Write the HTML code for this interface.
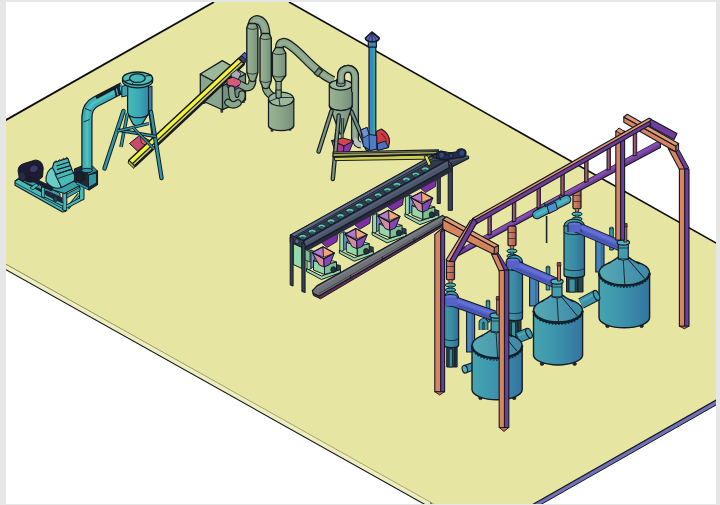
<!DOCTYPE html>
<html><head><meta charset="utf-8"><title>Plant layout</title>
<style>
html,body{margin:0;padding:0;background:#fff;font-family:"Liberation Sans",sans-serif;}
body{width:720px;height:505px;overflow:hidden;position:relative;}
svg{position:absolute;left:0;top:0;display:block;}
</style></head><body>
<svg width="720" height="505" viewBox="0 0 720 505">
<defs>
<linearGradient id="gTeal" x1="0" x2="1" y1="0" y2="0"><stop offset="0" stop-color="#45bcb8"/><stop offset="0.55" stop-color="#3aa9b4"/><stop offset="1" stop-color="#2f86ae"/></linearGradient>
<linearGradient id="gSage" x1="0" x2="1" y1="0" y2="0"><stop offset="0" stop-color="#9ab394"/><stop offset="0.5" stop-color="#8aa588"/><stop offset="1" stop-color="#74907a"/></linearGradient>
<linearGradient id="gTank" x1="0" x2="1" y1="0" y2="0"><stop offset="0" stop-color="#46a4b0"/><stop offset="0.45" stop-color="#3c94ac"/><stop offset="1" stop-color="#3474a0"/></linearGradient>
<linearGradient id="gLid" x1="0" x2="1" y1="0" y2="0"><stop offset="0" stop-color="#55aab4"/><stop offset="1" stop-color="#3f88a8"/></linearGradient>
<linearGradient id="gCond" x1="0" x2="1" y1="0" y2="0"><stop offset="0" stop-color="#3f9aa6"/><stop offset="0.5" stop-color="#3a8ca4"/><stop offset="1" stop-color="#2f6e94"/></linearGradient>
<linearGradient id="gChim" x1="0" x2="1" y1="0" y2="0"><stop offset="0" stop-color="#3f84c4"/><stop offset="0.55" stop-color="#3c8cbc"/><stop offset="0.8" stop-color="#3fa6a8"/><stop offset="1" stop-color="#5cba90"/></linearGradient>
<linearGradient id="gHang" x1="0" x2="1" y1="0" y2="0"><stop offset="0" stop-color="#d98a6a"/><stop offset="1" stop-color="#a8584e"/></linearGradient>
<filter id="soft" x="-2%" y="-2%" width="104%" height="104%"><feGaussianBlur stdDeviation="0.55"/></filter>
</defs>

<rect x="0" y="0" width="720" height="505" fill="#e6e6e6"/>
<rect x="6" y="2" width="710" height="502" fill="#ffffff"/>
<clipPath id="inner"><rect x="6" y="2" width="710" height="502"/></clipPath>
<g clip-path="url(#inner)" filter="url(#soft)">
<polygon points="2.0,261.5 2.0,267.4 431.0,507.9 431.0,501.0" fill="#eeeebc" stroke="#141a24" stroke-width="1.12" stroke-linejoin="round" />
<polygon points="524.0,509.0 533.0,509.0 724.0,400.5 724.0,394.0" fill="#7272b8" stroke="#141a24" stroke-width="1.0" stroke-linejoin="round" />
<polygon points="214.0,2.0 2.0,122.2 2.0,262.0 440.0,507.5 530.0,506.0 724.0,395.5 724.0,247.5 289.0,2.0" fill="#e6e6a2" stroke="none" stroke-width="1.0" stroke-linejoin="round" />
<polyline points="214.0,2.0 2.0,122.2" fill="none" stroke="#0e0e10" stroke-width="1.9" stroke-linecap="butt" stroke-linejoin="round"/>
<polyline points="289.0,2.0 724.0,247.5" fill="none" stroke="#0e0e10" stroke-width="1.7" stroke-linecap="butt" stroke-linejoin="round"/>
<polyline points="2.0,262.0 440.0,507.5" fill="none" stroke="#8a8a66" stroke-width="0.7" stroke-linecap="butt" stroke-linejoin="round"/>
<polyline points="530.0,506.0 724.0,395.5" fill="none" stroke="#141a24" stroke-width="1.25" stroke-linecap="butt" stroke-linejoin="round"/>
<path d="M221.8 109.0 L221.8 112.5" fill="none" stroke="#141a24" stroke-width="2.6" stroke-linecap="butt" stroke-linejoin="round" />
<path d="M221.8 109.0 L221.8 112.5" fill="none" stroke="#3a4a48" stroke-width="1.6" stroke-linecap="butt" stroke-linejoin="round" />
<path d="M204.0 101.0 L204.0 104.0" fill="none" stroke="#141a24" stroke-width="2.4" stroke-linecap="butt" stroke-linejoin="round" />
<path d="M204.0 101.0 L204.0 104.0" fill="none" stroke="#3a4a48" stroke-width="1.4" stroke-linecap="butt" stroke-linejoin="round" />
<path d="M243.5 100.0 L243.5 103.0" fill="none" stroke="#141a24" stroke-width="2.4" stroke-linecap="butt" stroke-linejoin="round" />
<path d="M243.5 100.0 L243.5 103.0" fill="none" stroke="#3a4a48" stroke-width="1.4" stroke-linecap="butt" stroke-linejoin="round" />
<polygon points="200.3,74.0 222.5,86.0 222.5,109.7 200.3,100.0" fill="#8aa68a" stroke="#141a24" stroke-width="1.25" stroke-linejoin="round" />
<polygon points="222.5,86.0 245.5,74.0 245.5,100.0 222.5,109.7" fill="#76927c" stroke="#141a24" stroke-width="1.25" stroke-linejoin="round" />
<polygon points="200.3,74.0 222.3,60.6 245.5,74.0 222.5,86.0" fill="#9cb79a" stroke="#141a24" stroke-width="1.25" stroke-linejoin="round" />
<polygon points="19.0,178.0 44.0,190.0 62.0,200.0 62.0,207.0 17.0,183.0" fill="#232838" stroke="none" stroke-width="1.0" stroke-linejoin="round" />
<polygon points="20.5,176.5 24.0,174.5 60.0,193.5 60.0,198.0 20.5,180.5" fill="#37a2a8" stroke="#141a24" stroke-width="1.0" stroke-linejoin="round" />
<polygon points="15.0,181.0 18.5,179.0 65.5,205.0 65.5,211.5 62.5,212.0 15.0,185.2" fill="#46bab6" stroke="#141a24" stroke-width="1.12" stroke-linejoin="round" />
<polyline points="15.0,182.8 62.6,208.6 65.5,207.0" fill="none" stroke="#141a24" stroke-width="0.75" stroke-linecap="butt" stroke-linejoin="round"/>
<polygon points="15.0,181.0 20.5,176.5 24.0,174.5 18.5,179.0" fill="#66cec6" stroke="#141a24" stroke-width="0.88" stroke-linejoin="round" />
<polygon points="30.0,188.0 36.0,183.5 39.0,185.0 33.0,189.8" fill="#46bab6" stroke="#141a24" stroke-width="0.75" stroke-linejoin="round" />
<polygon points="41.5,187.0 44.8,187.0 44.8,198.0 41.5,196.5" fill="#46bab6" stroke="#141a24" stroke-width="1.0" stroke-linejoin="round" />
<polygon points="79.5,184.0 84.0,182.5 84.0,199.5 79.5,201.0" fill="#46bab6" stroke="#141a24" stroke-width="1.0" stroke-linejoin="round" />
<polygon points="62.8,192.5 66.8,192.5 66.8,210.8 62.8,210.0" fill="#46bab6" stroke="#141a24" stroke-width="1.0" stroke-linejoin="round" />
<polygon points="66.8,194.0 80.0,187.0 80.0,190.5 66.8,198.0" fill="#37a2a8" stroke="#141a24" stroke-width="0.88" stroke-linejoin="round" />
<path d="M67.5 208.5 L79.0 194.0" fill="none" stroke="#141a24" stroke-width="3.45" stroke-linecap="butt" stroke-linejoin="round" />
<path d="M67.5 208.5 L79.0 194.0" fill="none" stroke="#46bab6" stroke-width="1.7" stroke-linecap="butt" stroke-linejoin="round" />
<path d="M66.8 206.5 L80.0 199.5" fill="none" stroke="#141a24" stroke-width="3.95" stroke-linecap="butt" stroke-linejoin="round" />
<path d="M66.8 206.5 L80.0 199.5" fill="none" stroke="#46bab6" stroke-width="2.2" stroke-linecap="butt" stroke-linejoin="round" />
<path d="M45.0 195.5 L62.8 204.5" fill="none" stroke="#141a24" stroke-width="3.95" stroke-linecap="butt" stroke-linejoin="round" />
<path d="M45.0 195.5 L62.8 204.5" fill="none" stroke="#46bab6" stroke-width="2.2" stroke-linecap="butt" stroke-linejoin="round" />
<polygon points="46.0,190.0 62.5,197.5 62.5,203.5 46.0,195.5" fill="#20283a" stroke="none" stroke-width="1.0" stroke-linejoin="round" />
<ellipse cx="55.5" cy="199.0" rx="2.2" ry="2.6" fill="#2e3a50" stroke="#141a24" stroke-width="0.75"/>
<polygon points="41.5,186.5 58.5,178.0 84.0,183.5 64.5,193.5" fill="#37a2a8" stroke="#141a24" stroke-width="1.12" stroke-linejoin="round" />
<path d="M18.5 174 Q16.5 165.5 24 163.5 L35.5 160 Q42.5 160.5 43.2 168 L42.5 177 Q35 184 26.5 181.5 Z" fill="#1c1b30" stroke="#141a24" stroke-width="1.0" stroke-linecap="butt" stroke-linejoin="round" />
<ellipse cx="22.4" cy="176.2" rx="3.4" ry="4.6" fill="#2b2946" stroke="#141a24" stroke-width="1.0" transform="rotate(-20 22.4 176.2)"/>
<ellipse cx="33.8" cy="168.8" rx="4.6" ry="3.6" fill="#3a3868" stroke="#15142a" stroke-width="0.7" transform="rotate(-25 33.8 168.8)"/>
<polygon points="27.0,178.5 31.0,176.5 53.5,187.5 51.5,191.0" fill="#1c1b30" stroke="#141a24" stroke-width="0.75" stroke-linejoin="round" />
<path d="M46 181.5 Q45.5 171 52.5 167.5 L56 170.5 L61.5 187.5 Q53 190.5 46 181.5 Z" fill="#66cec6" stroke="#141a24" stroke-width="1.12" stroke-linecap="butt" stroke-linejoin="round" />
<polygon points="55.0,174.0 71.5,169.0 77.0,179.5 61.5,187.5" fill="#46bab6" stroke="#141a24" stroke-width="1.12" stroke-linejoin="round" />
<polygon points="52.5,167.5 54.0,162.5 67.8,158.2 71.8,169.0 56.0,174.5" fill="#46bab6" stroke="#141a24" stroke-width="1.12" stroke-linejoin="round" />
<path d="M54 162.5 L56 160.8 L57.4 161.8 L59.6 159.6 L61 160.6 L63.4 158.2 L64.8 159.2 L66.6 157.4 L67.8 158.2" fill="none" stroke="#141a24" stroke-width="1.0" stroke-linecap="butt" stroke-linejoin="round" />
<polyline points="56.5,166.0 69.0,162.0" fill="none" stroke="#141a24" stroke-width="1.25" stroke-linecap="butt" stroke-linejoin="round"/>
<polyline points="57.0,169.6 70.4,165.6" fill="none" stroke="#141a24" stroke-width="1.25" stroke-linecap="butt" stroke-linejoin="round"/>
<polyline points="56.0,174.2 71.6,169.2" fill="none" stroke="#141a24" stroke-width="1.12" stroke-linecap="butt" stroke-linejoin="round"/>
<polyline points="58.0,178.5 73.5,173.0" fill="none" stroke="#141a24" stroke-width="0.88" stroke-linecap="butt" stroke-linejoin="round"/>
<polygon points="74.5,169.0 82.0,166.0 97.5,171.0 97.5,184.5 89.0,190.0 74.5,181.5" fill="#1f2c3a" stroke="#141a24" stroke-width="1.12" stroke-linejoin="round" />
<polygon points="88.5,175.0 96.5,173.0 96.5,183.0 88.5,187.5" fill="#2f96a2" stroke="#141a24" stroke-width="0.88" stroke-linejoin="round" />
<polygon points="76.0,172.5 81.0,171.0 85.0,173.0 85.0,180.0 80.0,182.0 76.0,179.5" fill="#16202c" stroke="#141a24" stroke-width="0.62" stroke-linejoin="round" />
<polygon points="82.0,166.5 92.0,165.5 97.5,171.0 88.5,175.0" fill="#2a8a98" stroke="#141a24" stroke-width="0.88" stroke-linejoin="round" />
<path d="M77.0 183.0 L88.0 188.5" fill="none" stroke="#141a24" stroke-width="3.05" stroke-linecap="butt" stroke-linejoin="round" />
<path d="M77.0 183.0 L88.0 188.5" fill="none" stroke="#2f96a2" stroke-width="1.8" stroke-linecap="butt" stroke-linejoin="round" />
<path d="M86.9 171 L86.9 117 Q87.2 106 96 101.5 L123 87.5" fill="none" stroke="#141a24" stroke-width="11.3" stroke-linecap="butt" stroke-linejoin="round" />
<path d="M86.9 171 L86.9 117 Q87.2 106 96 101.5 L123 87.5" fill="none" stroke="#3aaeb4" stroke-width="8.8" stroke-linecap="butt" stroke-linejoin="round" />
<path d="M86.9 171 L86.9 117 Q87.2 106 96 101.5 L123 87.5" fill="none" stroke="#62cfc8" stroke-width="3.08" stroke-linecap="butt" stroke-linejoin="round" opacity="0.55"/>
<ellipse cx="86.9" cy="170.5" rx="5.4" ry="2.2" fill="#2e97a0" stroke="#141a24" stroke-width="1.0"/>
<polyline points="96.0,97.6 120.0,85.0" fill="none" stroke="#141a24" stroke-width="3.0" stroke-linecap="butt" stroke-linejoin="round"/>
<path d="M117.5 84.5 L120.0 95.0" fill="none" stroke="#141a24" stroke-width="2.75" stroke-linecap="butt" stroke-linejoin="round" />
<path d="M117.5 84.5 L120.0 95.0" fill="none" stroke="#1c1b30" stroke-width="2.0" stroke-linecap="butt" stroke-linejoin="round" />
<path d="M114.5 86.5 L116.5 96.5" fill="none" stroke="#141a24" stroke-width="1.7" stroke-linecap="butt" stroke-linejoin="round" />
<path d="M114.5 86.5 L116.5 96.5" fill="none" stroke="#1c1b30" stroke-width="1.2" stroke-linecap="butt" stroke-linejoin="round" />
<polyline points="83.5,122.0 89.5,119.5" fill="none" stroke="#141a24" stroke-width="0.88" stroke-linecap="butt" stroke-linejoin="round"/>
<polyline points="85.0,108.5 91.5,111.0" fill="none" stroke="#141a24" stroke-width="0.88" stroke-linecap="butt" stroke-linejoin="round"/>
<path d="M150.5 112.0 L154.5 143.0" fill="none" stroke="#141a24" stroke-width="4.2" stroke-linecap="butt" stroke-linejoin="round" />
<path d="M150.5 112.0 L154.5 143.0" fill="none" stroke="#2f93a6" stroke-width="2.2" stroke-linecap="butt" stroke-linejoin="round" />
<path d="M127.6 86.0 L127.6 113.5 A10.5 4.2 0 0 0 148.6 113.5 L148.6 86.0 A10.5 4.2 0 0 0 127.6 86.0 Z" fill="url(#gTeal)" stroke="#141a24" stroke-width="1.25" stroke-linecap="butt" stroke-linejoin="round" />
<polygon points="148.6,87.5 152.0,86.0 152.0,110.5 148.6,113.0" fill="#2d86ac" stroke="#141a24" stroke-width="1.0" stroke-linejoin="round" />
<polygon points="121.8,86.5 127.6,84.5 127.6,95.5 121.8,97.0" fill="#3aa2b4" stroke="#141a24" stroke-width="1.0" stroke-linejoin="round" />
<path d="M122.6 78.5 L122.6 81.3 A15 6.5 0 0 0 152.6 81.3 L152.6 78.5 Z" fill="#3fb0b2" stroke="#141a24" stroke-width="1.25" stroke-linecap="butt" stroke-linejoin="round" />
<ellipse cx="137.6" cy="78.5" rx="15.0" ry="6.5" fill="#4cc0ba" stroke="#141a24" stroke-width="1.38"/>
<ellipse cx="137.4" cy="78.2" rx="7.8" ry="4.3" fill="#46b6b6" stroke="#141a24" stroke-width="1.25"/>
<polyline points="124.5,81.5 130.2,79.6" fill="none" stroke="#141a24" stroke-width="1.12" stroke-linecap="butt" stroke-linejoin="round"/>
<polyline points="145.5,76.0 151.5,75.2" fill="none" stroke="#141a24" stroke-width="1.0" stroke-linecap="butt" stroke-linejoin="round"/>
<polyline points="132.0,84.2 133.5,82.3" fill="none" stroke="#141a24" stroke-width="1.0" stroke-linecap="butt" stroke-linejoin="round"/>
<path d="M127.6 113.5 A10.5 4.2 0 0 0 148.6 113.5 L142.2 124 Q137.6 128.2 133 124 Z" fill="url(#gTeal)" stroke="#141a24" stroke-width="1.25" stroke-linecap="butt" stroke-linejoin="round" />
<polygon points="129.5,143.5 140.0,135.0 151.0,141.5 147.0,151.5 139.0,152.5" fill="#c8486c" stroke="#141a24" stroke-width="1.0" stroke-linejoin="round" />
<polygon points="140.0,135.0 151.0,141.5 149.0,147.0 141.5,143.0" fill="#d8645c" stroke="#141a24" stroke-width="0.75" stroke-linejoin="round" />
<polygon points="141.0,153.5 148.0,150.0 150.0,152.5 143.5,156.5" fill="#5a30c0" stroke="#141a24" stroke-width="0.75" stroke-linejoin="round" />
<polygon points="128.9,160.4 238.5,58.5 244.2,63.5 134.5,166.0" fill="#cfcf5a" stroke="#141a24" stroke-width="1.5" stroke-linejoin="round" />
<polygon points="128.9,160.4 238.5,58.5 241.9,61.4 132.3,163.7" fill="#f4f436" stroke="#141a24" stroke-width="1.25" stroke-linejoin="round" />
<polygon points="128.9,160.4 134.5,166.0 133.9,168.4 128.1,162.9" fill="#c9c928" stroke="#141a24" stroke-width="1.0" stroke-linejoin="round" />
<polyline points="134.6,166.3 244.3,63.8" fill="none" stroke="#141a24" stroke-width="2.38" stroke-linecap="butt" stroke-linejoin="round"/>
<polygon points="238.5,58.5 244.6,52.6 249.6,56.6 244.2,63.5" fill="#3a3a64" stroke="#141a24" stroke-width="1.12" stroke-linejoin="round" />
<polygon points="241.5,55.6 244.6,52.6 249.6,56.6 246.8,60.2" fill="#5a5ac0" stroke="#141a24" stroke-width="0.88" stroke-linejoin="round" />
<path d="M123.5 111.0 L104.5 168.5" fill="none" stroke="#141a24" stroke-width="4.4" stroke-linecap="round" stroke-linejoin="round" />
<path d="M123.5 111.0 L104.5 168.5" fill="none" stroke="#2f98a6" stroke-width="2.4" stroke-linecap="round" stroke-linejoin="round" />
<path d="M151.0 112.0 L161.5 178.0" fill="none" stroke="#141a24" stroke-width="4.4" stroke-linecap="round" stroke-linejoin="round" />
<path d="M151.0 112.0 L161.5 178.0" fill="none" stroke="#2f98a6" stroke-width="2.4" stroke-linecap="round" stroke-linejoin="round" />
<path d="M127.5 113.0 L121.0 147.0" fill="none" stroke="#141a24" stroke-width="3.55" stroke-linecap="butt" stroke-linejoin="round" />
<path d="M127.5 113.0 L121.0 147.0" fill="none" stroke="#2f98a6" stroke-width="1.8" stroke-linecap="butt" stroke-linejoin="round" />
<path d="M117.5 130.0 L156.0 136.5" fill="none" stroke="#141a24" stroke-width="3.45" stroke-linecap="butt" stroke-linejoin="round" />
<path d="M117.5 130.0 L156.0 136.5" fill="none" stroke="#2f98a6" stroke-width="1.7" stroke-linecap="butt" stroke-linejoin="round" />
<path d="M118.0 131.0 L149.0 123.5" fill="none" stroke="#141a24" stroke-width="3.0" stroke-linecap="butt" stroke-linejoin="round" />
<path d="M118.0 131.0 L149.0 123.5" fill="none" stroke="#2f98a6" stroke-width="1.5" stroke-linecap="butt" stroke-linejoin="round" />
<path d="M133.5 128.0 L154.0 149.0" fill="none" stroke="#141a24" stroke-width="3.0" stroke-linecap="butt" stroke-linejoin="round" />
<path d="M133.5 128.0 L154.0 149.0" fill="none" stroke="#2f93a6" stroke-width="1.5" stroke-linecap="butt" stroke-linejoin="round" />
<polygon points="231.0,74.0 236.5,70.0 241.0,73.5 238.0,80.0 232.0,80.0" fill="#a9a9b4" stroke="#141a24" stroke-width="0.88" stroke-linejoin="round" />
<polygon points="227.0,79.5 233.0,77.0 240.5,80.5 241.0,84.0 234.0,88.0 227.0,84.5" fill="#d45a78" stroke="#141a24" stroke-width="1.0" stroke-linejoin="round" />
<polygon points="227.0,84.5 234.0,88.0 241.0,84.0 241.0,86.5 234.0,90.5 227.0,87.0" fill="#7a3aa0" stroke="#141a24" stroke-width="0.88" stroke-linejoin="round" />
<path d="M231.5 89 L232 95 Q233 101.5 238.5 100.5 Q242.5 99 242 94" fill="none" stroke="#141a24" stroke-width="7.45" stroke-linecap="round" stroke-linejoin="round" />
<path d="M231.5 89 L232 95 Q233 101.5 238.5 100.5 Q242.5 99 242 94" fill="none" stroke="#8aa68a" stroke-width="5.2" stroke-linecap="round" stroke-linejoin="round" />
<path d="M228 102.5 Q233 107 238 103" fill="none" stroke="#141a24" stroke-width="7.45" stroke-linecap="round" stroke-linejoin="round" />
<path d="M228 102.5 Q233 107 238 103" fill="none" stroke="#8aa68a" stroke-width="5.2" stroke-linecap="round" stroke-linejoin="round" />
<path d="M252.5 80 Q252.5 88 246 87.5 L240 84.5" fill="none" stroke="#141a24" stroke-width="7.85" stroke-linecap="butt" stroke-linejoin="round" />
<path d="M252.5 80 Q252.5 88 246 87.5 L240 84.5" fill="none" stroke="#8aa68a" stroke-width="5.6" stroke-linecap="butt" stroke-linejoin="round" />
<path d="M252.2 27 C252 16 265.5 17 265.6 36" fill="none" stroke="#141a24" stroke-width="9.7" stroke-linecap="butt" stroke-linejoin="round" />
<path d="M252.2 27 C252 16 265.5 17 265.6 36" fill="none" stroke="#8aa68a" stroke-width="7.2" stroke-linecap="butt" stroke-linejoin="round" />
<path d="M252.2 27 C252 16 265.5 17 265.6 36" fill="none" stroke="#9cb79a" stroke-width="2.52" stroke-linecap="butt" stroke-linejoin="round" opacity="0.55"/>
<path d="M248.6 23.5 L246.8 27.8 L246.8 72.5 L249.8 80.5 Q252.6 82.7 255.4 80.5 L257.9 72.5 L257.9 27.8 L255.8 23.5 Z" fill="url(#gSage)" stroke="#141a24" stroke-width="1.38" stroke-linecap="butt" stroke-linejoin="round" />
<path d="M246.8 27.8 Q252.3 31.0 257.9 27.8" fill="none" stroke="#141a24" stroke-width="0.8" stroke-linecap="butt" stroke-linejoin="round" />
<path d="M246.8 72.5 Q252.3 75.7 257.9 72.5" fill="none" stroke="#141a24" stroke-width="0.8" stroke-linecap="butt" stroke-linejoin="round" />
<path d="M265.6 86.5 Q266 92 272.5 96.5" fill="none" stroke="#141a24" stroke-width="8.05" stroke-linecap="butt" stroke-linejoin="round" />
<path d="M265.6 86.5 Q266 92 272.5 96.5" fill="none" stroke="#8aa68a" stroke-width="5.8" stroke-linecap="butt" stroke-linejoin="round" />
<path d="M262.0 33.5 L260.0 38.0 L260.0 80.8 L262.8 87.5 Q265.8 89.7 268.8 87.5 L271.3 80.8 L271.3 38.0 L269.2 33.5 Z" fill="url(#gSage)" stroke="#141a24" stroke-width="1.38" stroke-linecap="butt" stroke-linejoin="round" />
<path d="M260.0 38.0 Q265.6 41.2 271.3 38.0" fill="none" stroke="#141a24" stroke-width="0.8" stroke-linecap="butt" stroke-linejoin="round" />
<path d="M260.0 80.8 Q265.6 84.0 271.3 80.8" fill="none" stroke="#141a24" stroke-width="0.8" stroke-linecap="butt" stroke-linejoin="round" />
<path d="M279.2 49 C279.4 40 285 41.5 291 46 C305 56 312 70 333 80.5" fill="none" stroke="#141a24" stroke-width="9.1" stroke-linecap="butt" stroke-linejoin="round" />
<path d="M279.2 49 C279.4 40 285 41.5 291 46 C305 56 312 70 333 80.5" fill="none" stroke="#8aa68a" stroke-width="6.6" stroke-linecap="butt" stroke-linejoin="round" />
<path d="M279.2 49 C279.4 40 285 41.5 291 46 C305 56 312 70 333 80.5" fill="none" stroke="#9cb79a" stroke-width="2.3099999999999996" stroke-linecap="butt" stroke-linejoin="round" opacity="0.55"/>
<path d="M316.2 70.3 L320.6 73.9" fill="none" stroke="#141a24" stroke-width="8.6" stroke-linecap="butt" stroke-linejoin="round" />
<path d="M316.2 70.3 L320.6 73.9" fill="none" stroke="#2c3a3a" stroke-width="7.6" stroke-linecap="butt" stroke-linejoin="round" />
<path d="M317.1 71.0 L319.7 73.2" fill="none" stroke="#141a24" stroke-width="6.0" stroke-linecap="butt" stroke-linejoin="round" />
<path d="M317.1 71.0 L319.7 73.2" fill="none" stroke="#76927c" stroke-width="6.0" stroke-linecap="butt" stroke-linejoin="round" />
<path d="M275.8 47.5 L272.4 53.0 L272.4 75.5 L276.0 81.5 Q278.6 83.7 281.2 81.5 L285.8 75.5 L285.8 53.0 L282.6 47.5 Z" fill="url(#gSage)" stroke="#141a24" stroke-width="1.38" stroke-linecap="butt" stroke-linejoin="round" />
<path d="M272.4 53.0 Q279.1 56.2 285.8 53.0" fill="none" stroke="#141a24" stroke-width="0.8" stroke-linecap="butt" stroke-linejoin="round" />
<path d="M272.4 75.5 Q279.1 78.7 285.8 75.5" fill="none" stroke="#141a24" stroke-width="0.8" stroke-linecap="butt" stroke-linejoin="round" />
<polygon points="276.0,81.5 281.2,81.5 281.2,97.0 276.0,97.0" fill="#8aa68a" stroke="#141a24" stroke-width="1.12" stroke-linejoin="round" />
<path d="M272.0 128.0 L272.0 131.5" fill="none" stroke="#141a24" stroke-width="2.6" stroke-linecap="butt" stroke-linejoin="round" />
<path d="M272.0 128.0 L272.0 131.5" fill="none" stroke="#34403c" stroke-width="1.6" stroke-linecap="butt" stroke-linejoin="round" />
<path d="M290.0 127.0 L290.0 130.5" fill="none" stroke="#141a24" stroke-width="2.6" stroke-linecap="butt" stroke-linejoin="round" />
<path d="M290.0 127.0 L290.0 130.5" fill="none" stroke="#34403c" stroke-width="1.6" stroke-linecap="butt" stroke-linejoin="round" />
<path d="M268.5 99.0 L268.5 126.0 A12.7 5.2 0 0 0 293.8 126.0 L293.8 99.0 A12.7 5.2 0 0 0 268.5 99.0 Z" fill="url(#gSage)" stroke="#141a24" stroke-width="1.25" stroke-linecap="butt" stroke-linejoin="round" />
<ellipse cx="281.1" cy="99.0" rx="12.6" ry="7.0" fill="#9cb79a" stroke="#141a24" stroke-width="1.25"/>
<polyline points="278.8,97.5 269.0,101.5" fill="none" stroke="#141a24" stroke-width="0.88" stroke-linecap="butt" stroke-linejoin="round"/>
<polyline points="278.8,97.5 280.0,105.8" fill="none" stroke="#141a24" stroke-width="0.88" stroke-linecap="butt" stroke-linejoin="round"/>
<polyline points="278.8,97.5 293.0,97.5" fill="none" stroke="#141a24" stroke-width="0.88" stroke-linecap="butt" stroke-linejoin="round"/>
<polygon points="276.0,90.0 281.2,90.0 281.2,97.2 278.6,98.5 276.0,97.2" fill="#8aa68a" stroke="#141a24" stroke-width="1.12" stroke-linejoin="round" />
<path d="M376 131.5 L381.5 129 Q390 134 389.5 142 L388.5 147.5 L377 150 Z" fill="#cf3b45" stroke="#141a24" stroke-width="1.12" stroke-linecap="butt" stroke-linejoin="round" />
<polygon points="377.0,144.0 385.0,141.0 388.5,147.5 378.0,150.5" fill="#4a72c4" stroke="#141a24" stroke-width="1.0" stroke-linejoin="round" />
<path d="M381 133.5 Q386 137 386.5 142" fill="none" stroke="#7a2030" stroke-width="1.1" stroke-linecap="butt" stroke-linejoin="round" />
<path d="M341 84 L341 76 C341 66.5 355 66 355 77 L355 140" fill="none" stroke="#141a24" stroke-width="8.1" stroke-linecap="butt" stroke-linejoin="round" />
<path d="M341 84 L341 76 C341 66.5 355 66 355 77 L355 140" fill="none" stroke="#8aa68a" stroke-width="5.6" stroke-linecap="butt" stroke-linejoin="round" />
<path d="M341 84 L341 76 C341 66.5 355 66 355 77 L355 140" fill="none" stroke="#9cb79a" stroke-width="1.9599999999999997" stroke-linecap="butt" stroke-linejoin="round" opacity="0.55"/>
<path d="M355 138 Q355.5 144.5 361 145" fill="none" stroke="#141a24" stroke-width="7.0" stroke-linecap="butt" stroke-linejoin="round" />
<path d="M355 138 Q355.5 144.5 361 145" fill="none" stroke="#b9c4c0" stroke-width="5.0" stroke-linecap="butt" stroke-linejoin="round" />
<path d="M351.5 112.0 L367.5 149.0" fill="none" stroke="#141a24" stroke-width="4.55" stroke-linecap="round" stroke-linejoin="round" />
<path d="M351.5 112.0 L367.5 149.0" fill="none" stroke="#748f7c" stroke-width="2.3" stroke-linecap="round" stroke-linejoin="round" />
<polygon points="369.0,46.0 375.8,46.0 375.8,136.0 369.0,136.0" fill="url(#gChim)" stroke="#141a24" stroke-width="1.25" stroke-linejoin="round" />
<polygon points="368.3,41.0 376.4,41.0 376.4,47.0 368.3,47.0" fill="#3f86b8" stroke="#141a24" stroke-width="1.25" stroke-linejoin="round" />
<path d="M365.4 38 L371.9 32 L379.2 38 Q379.2 41.2 372.3 42 Q365.4 41.2 365.4 38 Z" fill="#5a66c4" stroke="#141a24" stroke-width="1.62" stroke-linecap="butt" stroke-linejoin="round" />
<polyline points="371.9,32.3 372.3,41.6" fill="none" stroke="#141a24" stroke-width="0.88" stroke-linecap="butt" stroke-linejoin="round"/>
<polyline points="371.9,32.3 368.4,40.6" fill="none" stroke="#141a24" stroke-width="0.62" stroke-linecap="butt" stroke-linejoin="round"/>
<polyline points="371.9,32.3 376.4,40.6" fill="none" stroke="#141a24" stroke-width="0.62" stroke-linecap="butt" stroke-linejoin="round"/>
<polygon points="360.8,130.0 367.0,127.5 369.0,134.5 376.8,135.5 376.8,149.0 370.5,150.5 363.5,146.5" fill="#4f7cc6" stroke="#141a24" stroke-width="1.12" stroke-linejoin="round" />
<polyline points="369.0,134.5 369.5,150.0" fill="none" stroke="#141a24" stroke-width="0.88" stroke-linecap="butt" stroke-linejoin="round"/>
<polygon points="360.8,130.0 367.0,127.5 369.0,134.5 363.5,138.0" fill="#6d92d8" stroke="#141a24" stroke-width="0.88" stroke-linejoin="round" />
<path d="M329.3 85.0 L329.3 105.5 A11.4 5.0 0 0 0 352.2 105.5 L352.2 85.0 A11.4 5.0 0 0 0 329.3 85.0 Z" fill="url(#gSage)" stroke="#141a24" stroke-width="1.25" stroke-linecap="butt" stroke-linejoin="round" />
<ellipse cx="340.8" cy="85.0" rx="11.4" ry="5.0" fill="#9cb79a" stroke="#141a24" stroke-width="1.25"/>
<path d="M336.6 84.5 L336.6 80 A4.2 1.9 0 0 1 345 80 L345 84.5 A4.2 1.9 0 0 1 336.6 84.5 Z" fill="#8aa68a" stroke="#141a24" stroke-width="1.12" stroke-linecap="butt" stroke-linejoin="round" />
<path d="M329.3 105.5 A11.45 5 0 0 0 352.2 105.5 L343.6 133 Q341.6 135.5 339.6 133 Z" fill="url(#gSage)" stroke="#141a24" stroke-width="1.25" stroke-linecap="butt" stroke-linejoin="round" />
<path d="M341 82.5 L341 76 C341 66.5 355 66 355 77 L355 92" fill="none" stroke="#141a24" stroke-width="8.1" stroke-linecap="butt" stroke-linejoin="round" />
<path d="M341 82.5 L341 76 C341 66.5 355 66 355 77 L355 92" fill="none" stroke="#8aa68a" stroke-width="5.6" stroke-linecap="butt" stroke-linejoin="round" />
<path d="M341 82.5 L341 76 C341 66.5 355 66 355 77 L355 92" fill="none" stroke="#9cb79a" stroke-width="1.9599999999999997" stroke-linecap="butt" stroke-linejoin="round" opacity="0.55"/>
<path d="M336.6 82 A4.2 1.9 0 0 0 345 82" fill="none" stroke="#141a24" stroke-width="0.8" stroke-linecap="butt" stroke-linejoin="round" />
<path d="M331.5 111.0 L318.6 151.5" fill="none" stroke="#141a24" stroke-width="4.55" stroke-linecap="round" stroke-linejoin="round" />
<path d="M331.5 111.0 L318.6 151.5" fill="none" stroke="#7c9781" stroke-width="2.3" stroke-linecap="round" stroke-linejoin="round" />
<path d="M338.8 115.5 L332.8 179.0" fill="none" stroke="#141a24" stroke-width="4.45" stroke-linecap="round" stroke-linejoin="round" />
<path d="M338.8 115.5 L332.8 179.0" fill="none" stroke="#7c9781" stroke-width="2.2" stroke-linecap="round" stroke-linejoin="round" />
<path d="M342.8 118.0 L341.6 150.0" fill="none" stroke="#141a24" stroke-width="2.9" stroke-linecap="butt" stroke-linejoin="round" />
<path d="M342.8 118.0 L341.6 150.0" fill="none" stroke="#708a78" stroke-width="1.4" stroke-linecap="butt" stroke-linejoin="round" />
<polygon points="331.5,140.5 343.0,138.0 353.5,141.0 344.0,146.0" fill="#d54550" stroke="#141a24" stroke-width="1.0" stroke-linejoin="round" />
<polygon points="331.5,140.5 344.0,146.0 343.0,154.0 335.0,151.0" fill="#b03a8a" stroke="#141a24" stroke-width="1.0" stroke-linejoin="round" />
<polygon points="344.0,146.0 353.5,141.0 349.5,151.0 343.0,154.0" fill="#8a30a8" stroke="#141a24" stroke-width="1.0" stroke-linejoin="round" />
<path d="M337.4 130.0 L335.4 152.0" fill="none" stroke="#141a24" stroke-width="4.45" stroke-linecap="butt" stroke-linejoin="round" />
<path d="M337.4 130.0 L335.4 152.0" fill="none" stroke="#7c9781" stroke-width="2.2" stroke-linecap="butt" stroke-linejoin="round" />
<polygon points="333.0,152.0 438.5,149.9 438.5,154.0 333.0,156.8" fill="#a3a35e" stroke="#141a24" stroke-width="1.25" stroke-linejoin="round" />
<polyline points="333.0,153.6 438.5,151.4" fill="none" stroke="#141a24" stroke-width="0.88" stroke-linecap="butt" stroke-linejoin="round"/>
<polygon points="334.0,157.2 432.5,154.8 426.0,159.2 335.0,160.6" fill="#cfcf50" stroke="#141a24" stroke-width="1.0" stroke-linejoin="round" />
<polyline points="333.0,156.9 438.5,154.2" fill="none" stroke="#141a24" stroke-width="1.62" stroke-linecap="butt" stroke-linejoin="round"/>
<polygon points="437.2,175.0 440.3,175.0 440.3,203.5 437.2,203.5" fill="#363f52" stroke="#141a24" stroke-width="1.0" stroke-linejoin="round" />
<polygon points="448.2,165.0 452.4,165.0 452.4,210.3 448.2,210.3" fill="#363f52" stroke="#141a24" stroke-width="1.0" stroke-linejoin="round" />
<polygon points="405.4,197.1 409.4,195.1 409.4,213.6 405.4,215.6" fill="#97d6a6" stroke="#141a24" stroke-width="0.88" stroke-linejoin="round" />
<polygon points="409.4,195.1 412.9,196.6 412.9,211.1 409.4,213.6" fill="#6f8ed0" stroke="#141a24" stroke-width="0.75" stroke-linejoin="round" />
<polygon points="404.9,213.6 419.9,221.1 438.9,214.6 438.9,217.6 419.9,224.6 404.9,216.6" fill="#97d6a6" stroke="#141a24" stroke-width="1.0" stroke-linejoin="round" />
<polygon points="411.9,205.6 422.9,209.6 422.9,219.6 411.9,215.1" fill="#97d6a6" stroke="#141a24" stroke-width="1.0" stroke-linejoin="round" />
<polygon points="422.9,209.6 434.9,207.1 434.9,216.1 422.9,219.6" fill="#7cc090" stroke="#141a24" stroke-width="1.0" stroke-linejoin="round" />
<polygon points="411.9,205.6 423.4,203.6 434.9,207.1 422.9,209.6" fill="#aee4b8" stroke="#141a24" stroke-width="0.88" stroke-linejoin="round" />
<ellipse cx="431.7" cy="214.7" rx="2.5" ry="2.9" fill="#28303e" stroke="#141a24" stroke-width="0.88"/>
<polygon points="434.9,209.6 438.9,210.6 438.9,215.1 434.9,214.6" fill="#2f3848" stroke="#141a24" stroke-width="0.75" stroke-linejoin="round" />
<polygon points="416.9,185.1 436.9,174.6 435.4,186.6 425.4,192.6" fill="#7d2fa4" stroke="#141a24" stroke-width="0.88" stroke-linejoin="round" />
<polygon points="410.6,197.6 422.2,203.9 422.6,212.1 417.7,210.1" fill="#d58aa2" stroke="#141a24" stroke-width="1.0" stroke-linejoin="round" />
<polygon points="422.2,203.9 432.8,198.1 428.2,209.6 422.6,212.1" fill="#8446b6" stroke="#141a24" stroke-width="1.0" stroke-linejoin="round" />
<polygon points="410.6,197.6 421.4,191.9 422.0,202.3" fill="#b478cc" stroke="#141a24" stroke-width="0.75" stroke-linejoin="round" />
<polygon points="421.4,191.9 432.8,198.1 422.0,202.3" fill="#f2a674" stroke="#141a24" stroke-width="0.75" stroke-linejoin="round" />
<polygon points="410.6,197.6 421.4,191.9 432.8,198.1 422.2,203.9" fill="none" stroke="#141a24" stroke-width="1.12" stroke-linejoin="round" />
<polygon points="372.6,215.4 376.6,213.4 376.6,231.9 372.6,233.9" fill="#97d6a6" stroke="#141a24" stroke-width="0.88" stroke-linejoin="round" />
<polygon points="376.6,213.4 380.1,214.9 380.1,229.4 376.6,231.9" fill="#6f8ed0" stroke="#141a24" stroke-width="0.75" stroke-linejoin="round" />
<polygon points="372.1,231.9 387.1,239.4 406.1,232.9 406.1,235.9 387.1,242.9 372.1,234.9" fill="#97d6a6" stroke="#141a24" stroke-width="1.0" stroke-linejoin="round" />
<polygon points="379.1,223.9 390.1,227.9 390.1,237.9 379.1,233.4" fill="#97d6a6" stroke="#141a24" stroke-width="1.0" stroke-linejoin="round" />
<polygon points="390.1,227.9 402.1,225.4 402.1,234.4 390.1,237.9" fill="#7cc090" stroke="#141a24" stroke-width="1.0" stroke-linejoin="round" />
<polygon points="379.1,223.9 390.6,221.9 402.1,225.4 390.1,227.9" fill="#aee4b8" stroke="#141a24" stroke-width="0.88" stroke-linejoin="round" />
<ellipse cx="398.9" cy="233.0" rx="2.5" ry="2.9" fill="#28303e" stroke="#141a24" stroke-width="0.88"/>
<polygon points="402.1,227.9 406.1,228.9 406.1,233.4 402.1,232.9" fill="#2f3848" stroke="#141a24" stroke-width="0.75" stroke-linejoin="round" />
<polygon points="384.1,203.4 404.1,192.9 402.6,204.9 392.6,210.9" fill="#7d2fa4" stroke="#141a24" stroke-width="0.88" stroke-linejoin="round" />
<polygon points="377.8,215.9 389.4,222.2 389.8,230.4 384.9,228.4" fill="#d58aa2" stroke="#141a24" stroke-width="1.0" stroke-linejoin="round" />
<polygon points="389.4,222.2 400.0,216.4 395.4,227.9 389.8,230.4" fill="#8446b6" stroke="#141a24" stroke-width="1.0" stroke-linejoin="round" />
<polygon points="377.8,215.9 388.6,210.2 389.2,220.6" fill="#b478cc" stroke="#141a24" stroke-width="0.75" stroke-linejoin="round" />
<polygon points="388.6,210.2 400.0,216.4 389.2,220.6" fill="#f2a674" stroke="#141a24" stroke-width="0.75" stroke-linejoin="round" />
<polygon points="377.8,215.9 388.6,210.2 400.0,216.4 389.4,222.2" fill="none" stroke="#141a24" stroke-width="1.12" stroke-linejoin="round" />
<polygon points="339.8,233.7 343.8,231.7 343.8,250.2 339.8,252.2" fill="#97d6a6" stroke="#141a24" stroke-width="0.88" stroke-linejoin="round" />
<polygon points="343.8,231.7 347.3,233.2 347.3,247.7 343.8,250.2" fill="#6f8ed0" stroke="#141a24" stroke-width="0.75" stroke-linejoin="round" />
<polygon points="339.3,250.2 354.3,257.7 373.3,251.2 373.3,254.2 354.3,261.2 339.3,253.2" fill="#97d6a6" stroke="#141a24" stroke-width="1.0" stroke-linejoin="round" />
<polygon points="346.3,242.2 357.3,246.2 357.3,256.2 346.3,251.7" fill="#97d6a6" stroke="#141a24" stroke-width="1.0" stroke-linejoin="round" />
<polygon points="357.3,246.2 369.3,243.7 369.3,252.7 357.3,256.2" fill="#7cc090" stroke="#141a24" stroke-width="1.0" stroke-linejoin="round" />
<polygon points="346.3,242.2 357.8,240.2 369.3,243.7 357.3,246.2" fill="#aee4b8" stroke="#141a24" stroke-width="0.88" stroke-linejoin="round" />
<ellipse cx="366.1" cy="251.3" rx="2.5" ry="2.9" fill="#28303e" stroke="#141a24" stroke-width="0.88"/>
<polygon points="369.3,246.2 373.3,247.2 373.3,251.7 369.3,251.2" fill="#2f3848" stroke="#141a24" stroke-width="0.75" stroke-linejoin="round" />
<polygon points="351.3,221.7 371.3,211.2 369.8,223.2 359.8,229.2" fill="#7d2fa4" stroke="#141a24" stroke-width="0.88" stroke-linejoin="round" />
<polygon points="345.0,234.2 356.6,240.5 357.0,248.7 352.1,246.7" fill="#d58aa2" stroke="#141a24" stroke-width="1.0" stroke-linejoin="round" />
<polygon points="356.6,240.5 367.2,234.7 362.6,246.2 357.0,248.7" fill="#8446b6" stroke="#141a24" stroke-width="1.0" stroke-linejoin="round" />
<polygon points="345.0,234.2 355.8,228.5 356.4,238.9" fill="#b478cc" stroke="#141a24" stroke-width="0.75" stroke-linejoin="round" />
<polygon points="355.8,228.5 367.2,234.7 356.4,238.9" fill="#f2a674" stroke="#141a24" stroke-width="0.75" stroke-linejoin="round" />
<polygon points="345.0,234.2 355.8,228.5 367.2,234.7 356.6,240.5" fill="none" stroke="#141a24" stroke-width="1.12" stroke-linejoin="round" />
<polygon points="307.0,252.0 311.0,250.0 311.0,268.5 307.0,270.5" fill="#97d6a6" stroke="#141a24" stroke-width="0.88" stroke-linejoin="round" />
<polygon points="311.0,250.0 314.5,251.5 314.5,266.0 311.0,268.5" fill="#6f8ed0" stroke="#141a24" stroke-width="0.75" stroke-linejoin="round" />
<polygon points="306.5,268.5 321.5,276.0 340.5,269.5 340.5,272.5 321.5,279.5 306.5,271.5" fill="#97d6a6" stroke="#141a24" stroke-width="1.0" stroke-linejoin="round" />
<polygon points="313.5,260.5 324.5,264.5 324.5,274.5 313.5,270.0" fill="#97d6a6" stroke="#141a24" stroke-width="1.0" stroke-linejoin="round" />
<polygon points="324.5,264.5 336.5,262.0 336.5,271.0 324.5,274.5" fill="#7cc090" stroke="#141a24" stroke-width="1.0" stroke-linejoin="round" />
<polygon points="313.5,260.5 325.0,258.5 336.5,262.0 324.5,264.5" fill="#aee4b8" stroke="#141a24" stroke-width="0.88" stroke-linejoin="round" />
<ellipse cx="333.3" cy="269.6" rx="2.5" ry="2.9" fill="#28303e" stroke="#141a24" stroke-width="0.88"/>
<polygon points="336.5,264.5 340.5,265.5 340.5,270.0 336.5,269.5" fill="#2f3848" stroke="#141a24" stroke-width="0.75" stroke-linejoin="round" />
<polygon points="318.5,240.0 338.5,229.5 337.0,241.5 327.0,247.5" fill="#7d2fa4" stroke="#141a24" stroke-width="0.88" stroke-linejoin="round" />
<polygon points="312.2,252.5 323.8,258.8 324.2,267.0 319.3,265.0" fill="#d58aa2" stroke="#141a24" stroke-width="1.0" stroke-linejoin="round" />
<polygon points="323.8,258.8 334.4,253.0 329.8,264.5 324.2,267.0" fill="#8446b6" stroke="#141a24" stroke-width="1.0" stroke-linejoin="round" />
<polygon points="312.2,252.5 323.0,246.8 323.6,257.2" fill="#b478cc" stroke="#141a24" stroke-width="0.75" stroke-linejoin="round" />
<polygon points="323.0,246.8 334.4,253.0 323.6,257.2" fill="#f2a674" stroke="#141a24" stroke-width="0.75" stroke-linejoin="round" />
<polygon points="312.2,252.5 323.0,246.8 334.4,253.0 323.8,258.8" fill="none" stroke="#141a24" stroke-width="1.12" stroke-linejoin="round" />
<polygon points="304.0,248.0 452.0,166.8 452.0,171.5 304.0,252.8" fill="#262c3a" stroke="none" stroke-width="1.0" stroke-linejoin="round" />
<polygon points="290.5,235.0 437.0,153.2 447.9,159.9 449.5,167.5 303.8,248.0 290.5,242.0" fill="#4b566c" stroke="#141a24" stroke-width="1.38" stroke-linejoin="round" />
<polygon points="293.8,238.4 434.0,160.2 447.9,159.9 303.8,240.8" fill="#333b4e" stroke="#141a24" stroke-width="0.75" stroke-linejoin="round" />
<polygon points="290.5,235.0 437.0,153.2 439.5,154.8 293.3,237.2" fill="#5d6a82" stroke="#141a24" stroke-width="0.88" stroke-linejoin="round" />
<ellipse cx="302.8" cy="237.4" rx="3.4" ry="2.7" fill="#2c5a66" stroke="#161e28" stroke-width="0.8"/>
<path d="M299.8 237.2 A3.2 2.4 0 0 1 305.8 237.2" fill="none" stroke="#5ec8ae" stroke-width="1.7" stroke-linecap="butt" stroke-linejoin="round" />
<ellipse cx="312.2" cy="232.2" rx="3.4" ry="2.7" fill="#2c5a66" stroke="#161e28" stroke-width="0.8"/>
<path d="M309.2 232.0 A3.2 2.4 0 0 1 315.2 232.0" fill="none" stroke="#5ec8ae" stroke-width="1.7" stroke-linecap="butt" stroke-linejoin="round" />
<ellipse cx="321.6" cy="227.0" rx="3.4" ry="2.7" fill="#2c5a66" stroke="#161e28" stroke-width="0.8"/>
<path d="M318.6 226.8 A3.2 2.4 0 0 1 324.6 226.8" fill="none" stroke="#5ec8ae" stroke-width="1.7" stroke-linecap="butt" stroke-linejoin="round" />
<ellipse cx="331.1" cy="221.8" rx="3.4" ry="2.7" fill="#2c5a66" stroke="#161e28" stroke-width="0.8"/>
<path d="M328.1 221.6 A3.2 2.4 0 0 1 334.1 221.6" fill="none" stroke="#5ec8ae" stroke-width="1.7" stroke-linecap="butt" stroke-linejoin="round" />
<ellipse cx="340.5" cy="216.6" rx="3.4" ry="2.7" fill="#2c5a66" stroke="#161e28" stroke-width="0.8"/>
<path d="M337.5 216.4 A3.2 2.4 0 0 1 343.5 216.4" fill="none" stroke="#5ec8ae" stroke-width="1.7" stroke-linecap="butt" stroke-linejoin="round" />
<ellipse cx="349.9" cy="211.4" rx="3.4" ry="2.7" fill="#2c5a66" stroke="#161e28" stroke-width="0.8"/>
<path d="M346.9 211.2 A3.2 2.4 0 0 1 352.9 211.2" fill="none" stroke="#5ec8ae" stroke-width="1.7" stroke-linecap="butt" stroke-linejoin="round" />
<ellipse cx="359.3" cy="206.2" rx="3.4" ry="2.7" fill="#2c5a66" stroke="#161e28" stroke-width="0.8"/>
<path d="M356.3 206.0 A3.2 2.4 0 0 1 362.3 206.0" fill="none" stroke="#5ec8ae" stroke-width="1.7" stroke-linecap="butt" stroke-linejoin="round" />
<ellipse cx="368.7" cy="201.0" rx="3.4" ry="2.7" fill="#2c5a66" stroke="#161e28" stroke-width="0.8"/>
<path d="M365.7 200.8 A3.2 2.4 0 0 1 371.7 200.8" fill="none" stroke="#5ec8ae" stroke-width="1.7" stroke-linecap="butt" stroke-linejoin="round" />
<ellipse cx="378.2" cy="195.8" rx="3.4" ry="2.7" fill="#2c5a66" stroke="#161e28" stroke-width="0.8"/>
<path d="M375.2 195.6 A3.2 2.4 0 0 1 381.2 195.6" fill="none" stroke="#5ec8ae" stroke-width="1.7" stroke-linecap="butt" stroke-linejoin="round" />
<ellipse cx="387.6" cy="190.6" rx="3.4" ry="2.7" fill="#2c5a66" stroke="#161e28" stroke-width="0.8"/>
<path d="M384.6 190.4 A3.2 2.4 0 0 1 390.6 190.4" fill="none" stroke="#5ec8ae" stroke-width="1.7" stroke-linecap="butt" stroke-linejoin="round" />
<ellipse cx="397.0" cy="185.4" rx="3.4" ry="2.7" fill="#2c5a66" stroke="#161e28" stroke-width="0.8"/>
<path d="M394.0 185.2 A3.2 2.4 0 0 1 400.0 185.2" fill="none" stroke="#5ec8ae" stroke-width="1.7" stroke-linecap="butt" stroke-linejoin="round" />
<ellipse cx="406.4" cy="180.2" rx="3.4" ry="2.7" fill="#2c5a66" stroke="#161e28" stroke-width="0.8"/>
<path d="M403.4 180.0 A3.2 2.4 0 0 1 409.4 180.0" fill="none" stroke="#5ec8ae" stroke-width="1.7" stroke-linecap="butt" stroke-linejoin="round" />
<ellipse cx="415.8" cy="175.0" rx="3.4" ry="2.7" fill="#2c5a66" stroke="#161e28" stroke-width="0.8"/>
<path d="M412.8 174.8 A3.2 2.4 0 0 1 418.8 174.8" fill="none" stroke="#5ec8ae" stroke-width="1.7" stroke-linecap="butt" stroke-linejoin="round" />
<ellipse cx="425.3" cy="169.8" rx="3.4" ry="2.7" fill="#2c5a66" stroke="#161e28" stroke-width="0.8"/>
<path d="M422.3 169.6 A3.2 2.4 0 0 1 428.3 169.6" fill="none" stroke="#5ec8ae" stroke-width="1.7" stroke-linecap="butt" stroke-linejoin="round" />
<polygon points="424.2,156.4 427.4,155.4 431.4,164.6 428.2,165.6" fill="#e2e040" stroke="#141a24" stroke-width="1.0" stroke-linejoin="round" />
<polygon points="303.8,240.8 447.9,159.9 449.5,167.5 303.8,248.0" fill="#4b566c" stroke="#141a24" stroke-width="1.25" stroke-linejoin="round" />
<polyline points="304.5,243.0 448.3,162.2" fill="none" stroke="#5d6a82" stroke-width="0.9" stroke-linecap="butt" stroke-linejoin="round"/>
<polygon points="290.5,235.0 303.8,240.8 303.8,248.0 290.5,242.0" fill="#363f52" stroke="#141a24" stroke-width="1.12" stroke-linejoin="round" />
<ellipse cx="297.0" cy="241.3" rx="2.2" ry="2.6" fill="#596680" stroke="#141a24" stroke-width="0.88"/>
<polygon points="293.2,243.5 302.0,247.5 302.0,268.5 293.2,264.5" fill="#97d6a6" stroke="#141a24" stroke-width="1.0" stroke-linejoin="round" />
<polygon points="302.0,247.5 310.0,252.0 310.0,262.0 302.0,258.5" fill="#7cc090" stroke="#141a24" stroke-width="0.75" stroke-linejoin="round" />
<polygon points="290.2,237.0 293.1,238.3 293.1,286.0 290.2,285.0" fill="#363f52" stroke="#141a24" stroke-width="1.0" stroke-linejoin="round" />
<polygon points="301.9,242.6 305.1,244.0 305.1,292.6 301.9,291.4" fill="#363f52" stroke="#141a24" stroke-width="1.0" stroke-linejoin="round" />
<polygon points="431.5,156.4 441.0,151.0 468.6,156.4 468.6,158.6 452.8,166.6 447.9,159.9 437.0,158.8" fill="#363f52" stroke="#141a24" stroke-width="1.12" stroke-linejoin="round" />
<polyline points="449.5,161.5 468.6,156.6" fill="none" stroke="#5d6a82" stroke-width="0.7" stroke-linecap="butt" stroke-linejoin="round"/>
<path d="M436.5 157.5 Q435.5 152 440.5 151.2 Q445.5 151 446.2 154.6 L449 154.2 Q450 152 452.6 152.6 L456.5 151.8 Q457.5 148.6 462 148.8 Q466.6 149.6 466 154 Q464.8 157.8 459.5 157.6 L452.5 158.6 L441.5 160 Z" fill="#222c54" stroke="#141a24" stroke-width="1.12" stroke-linecap="butt" stroke-linejoin="round" />
<ellipse cx="441.6" cy="155.2" rx="3.0" ry="3.2" fill="#34447e" stroke="#141a24" stroke-width="0.88"/>
<ellipse cx="451.0" cy="155.6" rx="2.0" ry="2.2" fill="#2e3c72" stroke="#141a24" stroke-width="0.75"/>
<ellipse cx="461.8" cy="153.0" rx="3.2" ry="3.3" fill="#34447e" stroke="#141a24" stroke-width="0.88"/>
<polygon points="313.0,292.5 319.0,296.2 445.8,222.6 445.8,224.6 320.5,298.8 313.4,295.4" fill="#6a2c58" stroke="#141a24" stroke-width="1.0" stroke-linejoin="round" />
<polygon points="312.4,290.6 316.9,285.9 442.4,215.5 445.8,217.2 445.8,222.4 319.0,296.0 313.0,293.4" fill="#6e7278" stroke="#141a24" stroke-width="1.25" stroke-linejoin="round" />
<polyline points="316.0,288.6 443.0,217.6" fill="none" stroke="#8a8e94" stroke-width="0.8" stroke-linecap="butt" stroke-linejoin="round"/>
<polyline points="318.8,293.6 445.8,220.3" fill="none" stroke="#3a3e46" stroke-width="0.9" stroke-linecap="butt" stroke-linejoin="round"/>
<polyline points="350.7,275.0 350.7,279.2" fill="none" stroke="#141a24" stroke-width="0.88" stroke-linecap="butt" stroke-linejoin="round"/>
<polyline points="382.4,256.6 382.4,260.8" fill="none" stroke="#141a24" stroke-width="0.88" stroke-linecap="butt" stroke-linejoin="round"/>
<polyline points="414.1,238.2 414.1,242.4" fill="none" stroke="#141a24" stroke-width="0.88" stroke-linecap="butt" stroke-linejoin="round"/>
<path d="M573.0 190.5 L573.0 207.5 A4.0 1.6 0 0 0 581.0 207.5 L581.0 190.5 A4.0 1.6 0 0 0 573.0 190.5 Z" fill="url(#gHang)" stroke="#141a24" stroke-width="1.25" stroke-linecap="butt" stroke-linejoin="round" />
<polyline points="573.0,195.5 581.0,195.5" fill="none" stroke="#141a24" stroke-width="0.62" stroke-linecap="butt" stroke-linejoin="round"/>
<polyline points="573.0,201.5 581.0,201.5" fill="none" stroke="#141a24" stroke-width="0.62" stroke-linecap="butt" stroke-linejoin="round"/>
<polygon points="575.4,208.5 578.6,208.5 578.6,213.5 575.4,213.5" fill="#c77a64" stroke="#141a24" stroke-width="0.75" stroke-linejoin="round" />
<ellipse cx="577.0" cy="214.0" rx="5.2" ry="2.0" fill="#46b4b0" stroke="#141a24" stroke-width="1.0"/>
<polygon points="575.4,215.0 578.6,215.0 578.6,218.5 575.4,218.5" fill="#3a9ab0" stroke="#141a24" stroke-width="0.62" stroke-linejoin="round" />
<ellipse cx="577.0" cy="219.0" rx="5.2" ry="2.0" fill="#3fa6ae" stroke="#141a24" stroke-width="1.0"/>
<polygon points="566.5,275.0 583.0,275.0 583.0,292.0 566.5,292.0" fill="#27444e" stroke="#141a24" stroke-width="1.0" stroke-linejoin="round" />
<polygon points="569.0,279.0 575.2,279.0 575.2,292.0 569.0,292.0" fill="#3c93a0" stroke="#141a24" stroke-width="0.75" stroke-linejoin="round" />
<polyline points="577.8,277.0 577.8,292.0" fill="none" stroke="#141a24" stroke-width="1.25" stroke-linecap="butt" stroke-linejoin="round"/>
<path d="M564.0 226.0 L564.0 275.0 A10.2 2.6 0 0 0 584.5 275.0 L584.5 226.0 A10.2 2.6 0 0 0 564.0 226.0 Z" fill="url(#gCond)" stroke="#141a24" stroke-width="1.25" stroke-linecap="butt" stroke-linejoin="round" />
<path d="M564.0 232.0 A10.2 2.6 0 0 0 584.5 232.0" fill="none" stroke="#141a24" stroke-width="0.9" stroke-linecap="butt" stroke-linejoin="round" />
<path d="M564.0 268.0 A10.2 2.6 0 0 0 584.5 268.0" fill="none" stroke="#141a24" stroke-width="0.8" stroke-linecap="butt" stroke-linejoin="round" />
<path d="M564.0 226.0 Q564.5 220.0 574.2 219.0 Q584.0 220.0 584.5 226.0 Z" fill="#3f9aa6" stroke="#141a24" stroke-width="1.12" stroke-linecap="butt" stroke-linejoin="round" />
<polygon points="595.8,237.0 604.0,237.0 604.0,272.0 595.8,272.0" fill="#4684b8" stroke="#141a24" stroke-width="1.12" stroke-linejoin="round" />
<polyline points="601.7,237.0 601.7,272.0" fill="none" stroke="#376aa2" stroke-width="1.8" stroke-linecap="butt" stroke-linejoin="round"/>
<polygon points="609.7,228.0 613.3,228.0 613.3,250.0 609.7,250.0" fill="#3a9aaa" stroke="#141a24" stroke-width="0.88" stroke-linejoin="round" />
<ellipse cx="611.5" cy="228.0" rx="1.8" ry="0.9" fill="#58bcc0" stroke="#141a24" stroke-width="0.75"/>
<path d="M575.0 226.5 L622.0 246.5" fill="none" stroke="#141a24" stroke-width="11.0" stroke-linecap="butt" stroke-linejoin="round" />
<path d="M575.0 226.5 L622.0 246.5" fill="none" stroke="#5563c8" stroke-width="9.0" stroke-linecap="butt" stroke-linejoin="round" />
<path d="M575.0 224.5 L622.0 244.5" fill="none" stroke="#6a78da" stroke-width="2.6999999999999997" stroke-linecap="butt" stroke-linejoin="round" opacity="0.7"/>
<path d="M575.0 229.2 L622.0 249.2" fill="none" stroke="#4350ae" stroke-width="2.5200000000000005" stroke-linecap="butt" stroke-linejoin="round" opacity="0.8"/>
<ellipse cx="574.5" cy="225.0" rx="6.6" ry="3.0" fill="#6a78da" stroke="#141a24" stroke-width="1.12"/>
<polygon points="568.0,224.5 581.0,224.5 581.0,232.0 568.0,232.0" fill="#5563c8" stroke="none" stroke-width="1.0" stroke-linejoin="round" />
<polyline points="568.0,225.0 568.0,232.0" fill="none" stroke="#141a24" stroke-width="1.12" stroke-linecap="butt" stroke-linejoin="round"/>
<polyline points="581.0,229.0 581.0,232.0" fill="none" stroke="#141a24" stroke-width="0.75" stroke-linecap="butt" stroke-linejoin="round"/>
<ellipse cx="607.5" cy="326.0" rx="1.8" ry="1.6" fill="#1c2c38" stroke="#141a24" stroke-width="0.75"/>
<ellipse cx="641.6" cy="326.0" rx="1.8" ry="1.6" fill="#1c2c38" stroke="#141a24" stroke-width="0.75"/>
<path d="M599.0 273.0 L599.0 317.6 A25.3 10.2 0 0 0 649.6 317.6 L649.6 273.0 Z" fill="url(#gTank)" stroke="#141a24" stroke-width="1.38" stroke-linecap="butt" stroke-linejoin="round" />
<ellipse cx="624.3" cy="273.0" rx="25.3" ry="12.5" fill="url(#gLid)" stroke="#141a24" stroke-width="1.38"/>
<path d="M608.3 263.4 Q615.3 259.5 618.3 257.0 L628.3 257.0 Q631.3 259.5 639.3 263.8 Z" fill="url(#gLid)" stroke="none" stroke-width="1.0" stroke-linecap="butt" stroke-linejoin="round" />
<path d="M608.3 263.4 Q615.3 259.5 618.3 257.0" fill="none" stroke="#141a24" stroke-width="1.375" stroke-linecap="butt" stroke-linejoin="round" />
<path d="M639.3 263.8 Q631.3 259.5 628.3 257.0" fill="none" stroke="#141a24" stroke-width="1.375" stroke-linecap="butt" stroke-linejoin="round" />
<path d="M599.0 273.0 A25.3 12.5 0 0 0 649.6 273.0" fill="none" stroke="#10202c" stroke-width="2.4" stroke-linecap="butt" stroke-linejoin="round" />
<path d="M599.3 274.9 A25.0 12.5 0 0 0 649.3 274.9" fill="none" stroke="#10202c" stroke-width="1.1" stroke-linecap="butt" stroke-linejoin="round" stroke-dasharray="1.6 1.6"/>
<polyline points="627.8,259.0 644.6,278.5" fill="none" stroke="#141a24" stroke-width="1.0" stroke-linecap="butt" stroke-linejoin="round"/>
<polyline points="623.3,260.0 624.8,285.0" fill="none" stroke="#141a24" stroke-width="0.88" stroke-linecap="butt" stroke-linejoin="round"/>
<polygon points="618.3,242.5 628.3,242.5 628.3,259.0 618.3,259.0" fill="#3f9cae" stroke="#141a24" stroke-width="1.12" stroke-linejoin="round" />
<path d="M618.3 259.0 Q623.3 261.5 628.3 259.0" fill="#3f9cae" stroke="#141a24" stroke-width="1.0" stroke-linecap="butt" stroke-linejoin="round" />
<ellipse cx="623.3" cy="242.5" rx="6.2" ry="2.6" fill="#4fb2b8" stroke="#141a24" stroke-width="1.12"/>
<polyline points="618.3,248.0 628.3,248.0" fill="none" stroke="#141a24" stroke-width="0.75" stroke-linecap="butt" stroke-linejoin="round"/>
<polygon points="623.8,226.0 626.8,226.0 626.8,242.0 623.8,242.0" fill="#c9705c" stroke="#141a24" stroke-width="0.88" stroke-linejoin="round" />
<polygon points="623.5,223.5 627.1,223.5 627.1,227.0 623.5,227.0" fill="#a8343c" stroke="#141a24" stroke-width="0.75" stroke-linejoin="round" />
<polygon points="452.9,258.6 464.8,246.7 657.0,142.0 660.5,143.6 660.5,147.4 657.0,149.3" fill="#6f3c9a" stroke="#141a24" stroke-width="1.12" stroke-linejoin="round" />
<polygon points="464.8,246.7 657.0,142.0 660.5,143.6 467.5,248.6" fill="#8650ae" stroke="none" stroke-width="1.0" stroke-linejoin="round" />
<polygon points="615.8,131.0 620.6,131.0 620.6,240.0 615.8,240.0" fill="#d8855e" stroke="#141a24" stroke-width="1.12" stroke-linejoin="round" />
<polygon points="620.6,131.0 624.6,131.0 624.6,240.0 620.6,240.0" fill="#6f3c9a" stroke="#141a24" stroke-width="1.12" stroke-linejoin="round" />
<polygon points="615.8,131.0 619.0,128.0 624.6,131.5 621.0,134.0" fill="#e39a72" stroke="#141a24" stroke-width="1.0" stroke-linejoin="round" />
<polygon points="488.0,213.8 491.3,213.0 491.3,234.4 488.0,235.2" fill="#a05e66" stroke="#141a24" stroke-width="1.12" stroke-linejoin="round" />
<polyline points="490.8,213.4 490.8,234.4" fill="none" stroke="#552a7e" stroke-width="1.0" stroke-linecap="butt" stroke-linejoin="round"/>
<polygon points="512.4,199.9 515.7,199.1 515.7,221.1 512.4,221.9" fill="#a05e66" stroke="#141a24" stroke-width="1.12" stroke-linejoin="round" />
<polyline points="515.2,199.5 515.2,221.1" fill="none" stroke="#552a7e" stroke-width="1.0" stroke-linecap="butt" stroke-linejoin="round"/>
<polygon points="537.1,185.9 540.4,185.1 540.4,207.6 537.1,208.4" fill="#a05e66" stroke="#141a24" stroke-width="1.12" stroke-linejoin="round" />
<polyline points="539.9,185.5 539.9,207.6" fill="none" stroke="#552a7e" stroke-width="1.0" stroke-linecap="butt" stroke-linejoin="round"/>
<polygon points="560.9,172.4 564.2,171.6 564.2,194.7 560.9,195.5" fill="#a05e66" stroke="#141a24" stroke-width="1.12" stroke-linejoin="round" />
<polyline points="563.7,172.0 563.7,194.7" fill="none" stroke="#552a7e" stroke-width="1.0" stroke-linecap="butt" stroke-linejoin="round"/>
<polygon points="584.7,158.9 588.0,158.1 588.0,181.7 584.7,182.5" fill="#a05e66" stroke="#141a24" stroke-width="1.12" stroke-linejoin="round" />
<polyline points="587.5,158.5 587.5,181.7" fill="none" stroke="#552a7e" stroke-width="1.0" stroke-linecap="butt" stroke-linejoin="round"/>
<polygon points="607.1,146.2 610.4,145.4 610.4,169.5 607.1,170.3" fill="#a05e66" stroke="#141a24" stroke-width="1.12" stroke-linejoin="round" />
<polyline points="609.9,145.8 609.9,169.5" fill="none" stroke="#552a7e" stroke-width="1.0" stroke-linecap="butt" stroke-linejoin="round"/>
<polygon points="633.3,131.3 636.6,130.5 636.6,155.2 633.3,156.0" fill="#a05e66" stroke="#141a24" stroke-width="1.12" stroke-linejoin="round" />
<polyline points="636.1,130.9 636.1,155.2" fill="none" stroke="#552a7e" stroke-width="1.0" stroke-linecap="butt" stroke-linejoin="round"/>
<polygon points="623.8,117.0 676.0,146.2 676.0,152.0 623.8,122.2" fill="#d8855e" stroke="#141a24" stroke-width="1.12" stroke-linejoin="round" />
<polygon points="623.8,117.0 627.2,114.3 678.6,143.6 676.0,146.2" fill="#e39a72" stroke="#141a24" stroke-width="1.12" stroke-linejoin="round" />
<polygon points="676.0,146.2 678.6,143.6 678.6,149.4 676.0,152.0" fill="#bd6c4c" stroke="#141a24" stroke-width="1.0" stroke-linejoin="round" />
<polygon points="668.2,148.5 676.0,152.0 685.0,169.5 680.0,170.5" fill="#d8855e" stroke="#141a24" stroke-width="1.12" stroke-linejoin="round" />
<polygon points="676.0,152.0 678.6,149.4 688.8,168.0 685.0,169.5" fill="#6f3c9a" stroke="#141a24" stroke-width="1.0" stroke-linejoin="round" />
<polygon points="679.4,169.0 684.7,169.0 684.7,326.2 679.4,326.2" fill="#d8855e" stroke="#141a24" stroke-width="1.12" stroke-linejoin="round" />
<polygon points="684.7,169.0 689.0,169.0 689.0,326.2 684.7,326.2" fill="#6f3c9a" stroke="#141a24" stroke-width="1.12" stroke-linejoin="round" />
<polygon points="679.4,326.2 684.4,328.8 689.0,326.2" fill="#bd6c4c" stroke="#141a24" stroke-width="0.88" stroke-linejoin="round" />
<polygon points="649.0,118.2 677.0,133.6 674.0,139.6 650.0,126.4" fill="#6f3c9a" stroke="#141a24" stroke-width="1.12" stroke-linejoin="round" />
<polygon points="472.5,220.7 649.0,120.5 651.0,124.5 474.5,225.1" fill="#6f3c9a" stroke="#141a24" stroke-width="1.12" stroke-linejoin="round" />
<polygon points="472.5,218.5 649.0,118.3 651.5,119.6 649.5,121.2 473.0,221.1" fill="#e39a72" stroke="#141a24" stroke-width="1.12" stroke-linejoin="round" />
<polyline points="546.6,216.0 546.6,243.0" fill="none" stroke="#1a2430" stroke-width="1.6" stroke-linecap="butt" stroke-linejoin="round"/>
<path d="M537 214.5 L566.5 199.5" fill="none" stroke="#141a24" stroke-width="9.65" stroke-linecap="round" stroke-linejoin="round" />
<path d="M537 214.5 L566.5 199.5" fill="none" stroke="#3fa2b4" stroke-width="7.4" stroke-linecap="round" stroke-linejoin="round" />
<path d="M537 214.5 L566.5 199.5" fill="none" stroke="#62c4c8" stroke-width="2.59" stroke-linecap="round" stroke-linejoin="round" opacity="0.55"/>
<polygon points="547.0,206.0 555.5,202.0 557.5,209.5 549.0,213.5" fill="#4d8ed0" stroke="#141a24" stroke-width="1.0" stroke-linejoin="round" />
<polyline points="544.0,203.0 546.0,207.0" fill="none" stroke="#141a24" stroke-width="1.12" stroke-linecap="butt" stroke-linejoin="round"/>
<polyline points="559.0,196.0 560.5,200.0" fill="none" stroke="#141a24" stroke-width="1.12" stroke-linecap="butt" stroke-linejoin="round"/>
<path d="M508.0 227.5 L508.0 244.5 A4.0 1.6 0 0 0 516.0 244.5 L516.0 227.5 A4.0 1.6 0 0 0 508.0 227.5 Z" fill="url(#gHang)" stroke="#141a24" stroke-width="1.25" stroke-linecap="butt" stroke-linejoin="round" />
<polyline points="508.0,232.5 516.0,232.5" fill="none" stroke="#141a24" stroke-width="0.62" stroke-linecap="butt" stroke-linejoin="round"/>
<polyline points="508.0,238.5 516.0,238.5" fill="none" stroke="#141a24" stroke-width="0.62" stroke-linecap="butt" stroke-linejoin="round"/>
<polygon points="510.4,245.5 513.6,245.5 513.6,250.5 510.4,250.5" fill="#c77a64" stroke="#141a24" stroke-width="0.75" stroke-linejoin="round" />
<ellipse cx="512.0" cy="251.0" rx="5.2" ry="2.0" fill="#46b4b0" stroke="#141a24" stroke-width="1.0"/>
<polygon points="510.4,252.0 513.6,252.0 513.6,255.5 510.4,255.5" fill="#3a9ab0" stroke="#141a24" stroke-width="0.62" stroke-linejoin="round" />
<ellipse cx="512.0" cy="256.0" rx="5.2" ry="2.0" fill="#3fa6ae" stroke="#141a24" stroke-width="1.0"/>
<polygon points="509.0,318.0 521.0,318.0 521.0,340.0 509.0,340.0" fill="#27444e" stroke="#141a24" stroke-width="1.0" stroke-linejoin="round" />
<polygon points="511.5,322.0 515.5,322.0 515.5,340.0 511.5,340.0" fill="#3c93a0" stroke="#141a24" stroke-width="0.75" stroke-linejoin="round" />
<polyline points="518.0,320.0 518.0,340.0" fill="none" stroke="#141a24" stroke-width="1.25" stroke-linecap="butt" stroke-linejoin="round"/>
<path d="M506.5 262.0 L506.5 318.0 A8.0 2.6 0 0 0 522.5 318.0 L522.5 262.0 A8.0 2.6 0 0 0 506.5 262.0 Z" fill="url(#gCond)" stroke="#141a24" stroke-width="1.25" stroke-linecap="butt" stroke-linejoin="round" />
<path d="M506.5 268.0 A8.0 2.6 0 0 0 522.5 268.0" fill="none" stroke="#141a24" stroke-width="0.9" stroke-linecap="butt" stroke-linejoin="round" />
<path d="M506.5 311.0 A8.0 2.6 0 0 0 522.5 311.0" fill="none" stroke="#141a24" stroke-width="0.8" stroke-linecap="butt" stroke-linejoin="round" />
<path d="M506.5 262.0 Q507.0 256.0 514.5 255.0 Q522.0 256.0 522.5 262.0 Z" fill="#3f9aa6" stroke="#141a24" stroke-width="1.12" stroke-linecap="butt" stroke-linejoin="round" />
<polygon points="529.6,273.0 538.6,273.0 538.6,306.0 529.6,306.0" fill="#4684b8" stroke="#141a24" stroke-width="1.12" stroke-linejoin="round" />
<polyline points="535.9,273.0 535.9,306.0" fill="none" stroke="#376aa2" stroke-width="1.8" stroke-linecap="butt" stroke-linejoin="round"/>
<polygon points="546.2,267.0 549.8,267.0 549.8,290.0 546.2,290.0" fill="#3a9aaa" stroke="#141a24" stroke-width="0.88" stroke-linejoin="round" />
<ellipse cx="548.0" cy="267.0" rx="1.8" ry="0.9" fill="#58bcc0" stroke="#141a24" stroke-width="0.75"/>
<path d="M513.0 264.5 L557.0 283.5" fill="none" stroke="#141a24" stroke-width="11.0" stroke-linecap="butt" stroke-linejoin="round" />
<path d="M513.0 264.5 L557.0 283.5" fill="none" stroke="#5563c8" stroke-width="9.0" stroke-linecap="butt" stroke-linejoin="round" />
<path d="M513.0 262.5 L557.0 281.5" fill="none" stroke="#6a78da" stroke-width="2.6999999999999997" stroke-linecap="butt" stroke-linejoin="round" opacity="0.7"/>
<path d="M513.0 267.2 L557.0 286.2" fill="none" stroke="#4350ae" stroke-width="2.5200000000000005" stroke-linecap="butt" stroke-linejoin="round" opacity="0.8"/>
<ellipse cx="512.8" cy="261.0" rx="6.6" ry="3.0" fill="#6a78da" stroke="#141a24" stroke-width="1.12"/>
<polygon points="506.3,260.5 519.3,260.5 519.3,268.0 506.3,268.0" fill="#5563c8" stroke="none" stroke-width="1.0" stroke-linejoin="round" />
<polyline points="506.3,261.0 506.3,268.0" fill="none" stroke="#141a24" stroke-width="1.12" stroke-linecap="butt" stroke-linejoin="round"/>
<path d="M581.0 303.5 L596.5 295.3" fill="none" stroke="#141a24" stroke-width="11.5" stroke-linecap="butt" stroke-linejoin="round" />
<path d="M581.0 303.5 L596.5 295.3" fill="none" stroke="#3a92aa" stroke-width="9.5" stroke-linecap="butt" stroke-linejoin="round" />
<path d="M581.0 301.5 L596.5 293.3" fill="none" stroke="#52b0bc" stroke-width="2.2" stroke-linecap="butt" stroke-linejoin="round" opacity="0.7"/>
<ellipse cx="596.5" cy="295.3" rx="2.6" ry="5.2" fill="#3f9cb0" stroke="#141a24" stroke-width="1.12" transform="rotate(-25 596.5 295.3)"/>
<ellipse cx="542.0" cy="363.8" rx="1.8" ry="1.6" fill="#1c2c38" stroke="#141a24" stroke-width="0.75"/>
<ellipse cx="574.6" cy="363.8" rx="1.8" ry="1.6" fill="#1c2c38" stroke="#141a24" stroke-width="0.75"/>
<path d="M533.5 310.8 L533.5 355.4 A24.6 10.2 0 0 0 582.6 355.4 L582.6 310.8 Z" fill="url(#gTank)" stroke="#141a24" stroke-width="1.38" stroke-linecap="butt" stroke-linejoin="round" />
<ellipse cx="558.0" cy="310.8" rx="24.6" ry="12.5" fill="url(#gLid)" stroke="#141a24" stroke-width="1.38"/>
<path d="M542.0 301.2 Q549.0 297.3 552.0 294.8 L562.0 294.8 Q565.0 297.3 573.0 301.6 Z" fill="url(#gLid)" stroke="none" stroke-width="1.0" stroke-linecap="butt" stroke-linejoin="round" />
<path d="M542.0 301.2 Q549.0 297.3 552.0 294.8" fill="none" stroke="#141a24" stroke-width="1.375" stroke-linecap="butt" stroke-linejoin="round" />
<path d="M573.0 301.6 Q565.0 297.3 562.0 294.8" fill="none" stroke="#141a24" stroke-width="1.375" stroke-linecap="butt" stroke-linejoin="round" />
<path d="M533.5 310.8 A24.6 12.5 0 0 0 582.6 310.8" fill="none" stroke="#10202c" stroke-width="2.4" stroke-linecap="butt" stroke-linejoin="round" />
<path d="M533.8 312.7 A24.3 12.5 0 0 0 582.3 312.7" fill="none" stroke="#10202c" stroke-width="1.1" stroke-linecap="butt" stroke-linejoin="round" stroke-dasharray="1.6 1.6"/>
<polyline points="561.5,296.8 577.6,316.3" fill="none" stroke="#141a24" stroke-width="1.0" stroke-linecap="butt" stroke-linejoin="round"/>
<polyline points="557.0,297.8 558.5,322.8" fill="none" stroke="#141a24" stroke-width="0.88" stroke-linecap="butt" stroke-linejoin="round"/>
<polygon points="552.0,281.5 562.0,281.5 562.0,296.8 552.0,296.8" fill="#3f9cae" stroke="#141a24" stroke-width="1.12" stroke-linejoin="round" />
<path d="M552.0 296.8 Q557.0 299.3 562.0 296.8" fill="#3f9cae" stroke="#141a24" stroke-width="1.0" stroke-linecap="butt" stroke-linejoin="round" />
<ellipse cx="557.0" cy="281.5" rx="6.2" ry="2.6" fill="#4fb2b8" stroke="#141a24" stroke-width="1.12"/>
<polyline points="552.0,287.0 562.0,287.0" fill="none" stroke="#141a24" stroke-width="0.75" stroke-linecap="butt" stroke-linejoin="round"/>
<polygon points="557.5,265.0 560.5,265.0 560.5,281.0 557.5,281.0" fill="#c9705c" stroke="#141a24" stroke-width="0.88" stroke-linejoin="round" />
<polygon points="557.2,262.5 560.8,262.5 560.8,266.0 557.2,266.0" fill="#a8343c" stroke="#141a24" stroke-width="0.75" stroke-linejoin="round" />
<path d="M446.5 261.5 L446.5 278.5 A4.0 1.6 0 0 0 454.5 278.5 L454.5 261.5 A4.0 1.6 0 0 0 446.5 261.5 Z" fill="url(#gHang)" stroke="#141a24" stroke-width="1.25" stroke-linecap="butt" stroke-linejoin="round" />
<polyline points="446.5,266.5 454.5,266.5" fill="none" stroke="#141a24" stroke-width="0.62" stroke-linecap="butt" stroke-linejoin="round"/>
<polyline points="446.5,272.5 454.5,272.5" fill="none" stroke="#141a24" stroke-width="0.62" stroke-linecap="butt" stroke-linejoin="round"/>
<polygon points="448.9,279.5 452.1,279.5 452.1,284.5 448.9,284.5" fill="#c77a64" stroke="#141a24" stroke-width="0.75" stroke-linejoin="round" />
<ellipse cx="450.5" cy="285.0" rx="5.2" ry="2.0" fill="#46b4b0" stroke="#141a24" stroke-width="1.0"/>
<polygon points="448.9,286.0 452.1,286.0 452.1,289.5 448.9,289.5" fill="#3a9ab0" stroke="#141a24" stroke-width="0.62" stroke-linejoin="round" />
<ellipse cx="450.5" cy="290.0" rx="5.2" ry="2.0" fill="#3fa6ae" stroke="#141a24" stroke-width="1.0"/>
<polygon points="446.7,345.0 457.1,345.0 457.1,367.0 446.7,367.0" fill="#27444e" stroke="#141a24" stroke-width="1.0" stroke-linejoin="round" />
<polygon points="449.2,349.0 452.4,349.0 452.4,367.0 449.2,367.0" fill="#3c93a0" stroke="#141a24" stroke-width="0.75" stroke-linejoin="round" />
<polyline points="454.9,347.0 454.9,367.0" fill="none" stroke="#141a24" stroke-width="1.25" stroke-linecap="butt" stroke-linejoin="round"/>
<path d="M444.2 298.0 L444.2 345.0 A7.2 2.6 0 0 0 458.6 345.0 L458.6 298.0 A7.2 2.6 0 0 0 444.2 298.0 Z" fill="url(#gCond)" stroke="#141a24" stroke-width="1.25" stroke-linecap="butt" stroke-linejoin="round" />
<path d="M444.2 304.0 A7.2 2.6 0 0 0 458.6 304.0" fill="none" stroke="#141a24" stroke-width="0.9" stroke-linecap="butt" stroke-linejoin="round" />
<path d="M444.2 338.0 A7.2 2.6 0 0 0 458.6 338.0" fill="none" stroke="#141a24" stroke-width="0.8" stroke-linecap="butt" stroke-linejoin="round" />
<path d="M444.2 298.0 Q444.7 292.0 451.4 291.0 Q458.1 292.0 458.6 298.0 Z" fill="#3f9aa6" stroke="#141a24" stroke-width="1.12" stroke-linecap="butt" stroke-linejoin="round" />
<polygon points="466.6,309.0 474.6,309.0 474.6,352.0 466.6,352.0" fill="#4684b8" stroke="#141a24" stroke-width="1.12" stroke-linejoin="round" />
<polyline points="472.4,309.0 472.4,352.0" fill="none" stroke="#376aa2" stroke-width="1.8" stroke-linecap="butt" stroke-linejoin="round"/>
<polygon points="486.2,301.0 489.8,301.0 489.8,322.0 486.2,322.0" fill="#3a9aaa" stroke="#141a24" stroke-width="0.88" stroke-linejoin="round" />
<ellipse cx="488.0" cy="301.0" rx="1.8" ry="0.9" fill="#58bcc0" stroke="#141a24" stroke-width="0.75"/>
<path d="M481 330 L481 322 Q483.5 318.5 486 322 L486 330" fill="none" stroke="#141a24" stroke-width="4.75" stroke-linecap="butt" stroke-linejoin="round" />
<path d="M481 330 L481 322 Q483.5 318.5 486 322 L486 330" fill="none" stroke="#3a9aaa" stroke-width="3.0" stroke-linecap="butt" stroke-linejoin="round" />
<path d="M451.0 300.5 L494.5 316.0" fill="none" stroke="#141a24" stroke-width="11.0" stroke-linecap="butt" stroke-linejoin="round" />
<path d="M451.0 300.5 L494.5 316.0" fill="none" stroke="#5563c8" stroke-width="9.0" stroke-linecap="butt" stroke-linejoin="round" />
<path d="M451.0 298.5 L494.5 314.0" fill="none" stroke="#6a78da" stroke-width="2.6999999999999997" stroke-linecap="butt" stroke-linejoin="round" opacity="0.7"/>
<path d="M451.0 303.2 L494.5 318.7" fill="none" stroke="#4350ae" stroke-width="2.5200000000000005" stroke-linecap="butt" stroke-linejoin="round" opacity="0.8"/>
<ellipse cx="450.8" cy="297.5" rx="6.6" ry="3.0" fill="#6a78da" stroke="#141a24" stroke-width="1.12"/>
<polygon points="444.3,297.5 457.3,297.5 457.3,306.0 444.3,306.0" fill="#5563c8" stroke="none" stroke-width="1.0" stroke-linejoin="round" />
<polyline points="444.3,297.5 444.3,306.0" fill="none" stroke="#141a24" stroke-width="1.12" stroke-linecap="butt" stroke-linejoin="round"/>
<path d="M518.0 337.5 L529.0 333.2" fill="none" stroke="#141a24" stroke-width="11.5" stroke-linecap="butt" stroke-linejoin="round" />
<path d="M518.0 337.5 L529.0 333.2" fill="none" stroke="#3a92aa" stroke-width="9.5" stroke-linecap="butt" stroke-linejoin="round" />
<path d="M518.0 335.5 L529.0 331.2" fill="none" stroke="#52b0bc" stroke-width="2.2" stroke-linecap="butt" stroke-linejoin="round" opacity="0.7"/>
<ellipse cx="529.0" cy="333.2" rx="2.6" ry="5.2" fill="#3f9cb0" stroke="#141a24" stroke-width="1.12" transform="rotate(-25 529.0 333.2)"/>
<path d="M465.5 369 L474 366" fill="none" stroke="#141a24" stroke-width="8.65" stroke-linecap="butt" stroke-linejoin="round" />
<path d="M465.5 369 L474 366" fill="none" stroke="#3a92aa" stroke-width="6.4" stroke-linecap="butt" stroke-linejoin="round" />
<ellipse cx="464.8" cy="369.2" rx="2.6" ry="3.9" fill="#52b0bc" stroke="#141a24" stroke-width="1.12" transform="rotate(-15 464.8 369.2)"/>
<ellipse cx="480.5" cy="398.0" rx="1.8" ry="1.6" fill="#1c2c38" stroke="#141a24" stroke-width="0.75"/>
<ellipse cx="514.2" cy="398.0" rx="1.8" ry="1.6" fill="#1c2c38" stroke="#141a24" stroke-width="0.75"/>
<path d="M472.0 345.8 L472.0 389.6 A25.1 10.2 0 0 0 522.2 389.6 L522.2 345.8 Z" fill="url(#gTank)" stroke="#141a24" stroke-width="1.38" stroke-linecap="butt" stroke-linejoin="round" />
<ellipse cx="497.1" cy="345.8" rx="25.1" ry="12.5" fill="url(#gLid)" stroke="#141a24" stroke-width="1.38"/>
<path d="M481.1 336.2 Q488.1 332.3 491.1 329.8 L501.1 329.8 Q504.1 332.3 512.1 336.6 Z" fill="url(#gLid)" stroke="none" stroke-width="1.0" stroke-linecap="butt" stroke-linejoin="round" />
<path d="M481.1 336.2 Q488.1 332.3 491.1 329.8" fill="none" stroke="#141a24" stroke-width="1.375" stroke-linecap="butt" stroke-linejoin="round" />
<path d="M512.1 336.6 Q504.1 332.3 501.1 329.8" fill="none" stroke="#141a24" stroke-width="1.375" stroke-linecap="butt" stroke-linejoin="round" />
<path d="M472.0 345.8 A25.1 12.5 0 0 0 522.2 345.8" fill="none" stroke="#10202c" stroke-width="2.4" stroke-linecap="butt" stroke-linejoin="round" />
<path d="M472.3 347.7 A24.8 12.5 0 0 0 521.9 347.7" fill="none" stroke="#10202c" stroke-width="1.1" stroke-linecap="butt" stroke-linejoin="round" stroke-dasharray="1.6 1.6"/>
<polyline points="500.6,331.8 517.2,351.3" fill="none" stroke="#141a24" stroke-width="1.0" stroke-linecap="butt" stroke-linejoin="round"/>
<polyline points="496.1,332.8 497.6,357.8" fill="none" stroke="#141a24" stroke-width="0.88" stroke-linecap="butt" stroke-linejoin="round"/>
<polygon points="491.1,315.5 501.1,315.5 501.1,331.8 491.1,331.8" fill="#3f9cae" stroke="#141a24" stroke-width="1.12" stroke-linejoin="round" />
<path d="M491.1 331.8 Q496.1 334.3 501.1 331.8" fill="#3f9cae" stroke="#141a24" stroke-width="1.0" stroke-linecap="butt" stroke-linejoin="round" />
<ellipse cx="496.1" cy="315.5" rx="6.2" ry="2.6" fill="#4fb2b8" stroke="#141a24" stroke-width="1.12"/>
<polyline points="491.1,321.0 501.1,321.0" fill="none" stroke="#141a24" stroke-width="0.75" stroke-linecap="butt" stroke-linejoin="round"/>
<polygon points="496.6,299.0 499.6,299.0 499.6,315.0 496.6,315.0" fill="#c9705c" stroke="#141a24" stroke-width="0.88" stroke-linejoin="round" />
<polygon points="496.3,296.5 499.9,296.5 499.9,300.0 496.3,300.0" fill="#a8343c" stroke="#141a24" stroke-width="0.75" stroke-linejoin="round" />
<polygon points="442.8,219.5 494.5,247.5 494.2,254.4 442.8,229.2" fill="#d8855e" stroke="#141a24" stroke-width="1.12" stroke-linejoin="round" />
<polygon points="442.8,219.5 446.4,216.8 498.6,245.6 494.5,247.5" fill="#e39a72" stroke="#141a24" stroke-width="1.12" stroke-linejoin="round" />
<polygon points="494.5,247.5 498.6,245.6 498.4,252.3 494.2,254.4" fill="#bd6c4c" stroke="#141a24" stroke-width="1.0" stroke-linejoin="round" />
<polyline points="449.0,225.0 456.0,230.5" fill="none" stroke="#bd6c4c" stroke-width="0.6" stroke-linecap="butt" stroke-linejoin="round"/>
<polyline points="478.0,242.0 488.0,249.0" fill="none" stroke="#bd6c4c" stroke-width="0.6" stroke-linecap="butt" stroke-linejoin="round"/>
<polygon points="434.8,234.4 442.8,227.8 442.8,229.0 440.8,232.0 440.8,391.7 434.8,391.7" fill="#d8855e" stroke="#141a24" stroke-width="1.12" stroke-linejoin="round" />
<polygon points="440.8,232.0 444.6,229.8 444.6,391.7 440.8,391.7" fill="#6f3c9a" stroke="#141a24" stroke-width="1.12" stroke-linejoin="round" />
<polygon points="434.8,391.7 439.7,395.0 444.6,391.7" fill="#bd6c4c" stroke="#141a24" stroke-width="0.88" stroke-linejoin="round" />
<polygon points="470.3,220.6 473.5,218.6 449.5,261.5 446.0,260.0" fill="#e39a72" stroke="#141a24" stroke-width="1.12" stroke-linejoin="round" />
<polygon points="473.5,218.6 477.0,222.4 454.6,261.4 449.5,261.5" fill="#6f3c9a" stroke="#141a24" stroke-width="1.12" stroke-linejoin="round" />
<polygon points="491.4,254.0 497.2,254.4 504.5,270.4 499.2,271.0" fill="#d8855e" stroke="#141a24" stroke-width="1.12" stroke-linejoin="round" />
<polygon points="497.2,254.4 498.0,252.7 508.8,269.8 504.5,270.4" fill="#6f3c9a" stroke="#141a24" stroke-width="1.0" stroke-linejoin="round" />
<polygon points="499.2,270.8 504.5,270.2 504.5,427.5 499.2,427.5" fill="#d8855e" stroke="#141a24" stroke-width="1.12" stroke-linejoin="round" />
<polygon points="504.5,270.2 508.8,269.6 508.8,427.5 504.5,427.5" fill="#6f3c9a" stroke="#141a24" stroke-width="1.12" stroke-linejoin="round" />
<polygon points="499.2,427.5 504.0,431.5 508.8,427.5" fill="#bd6c4c" stroke="#141a24" stroke-width="0.88" stroke-linejoin="round" />
</g>
</svg>
</body></html>
